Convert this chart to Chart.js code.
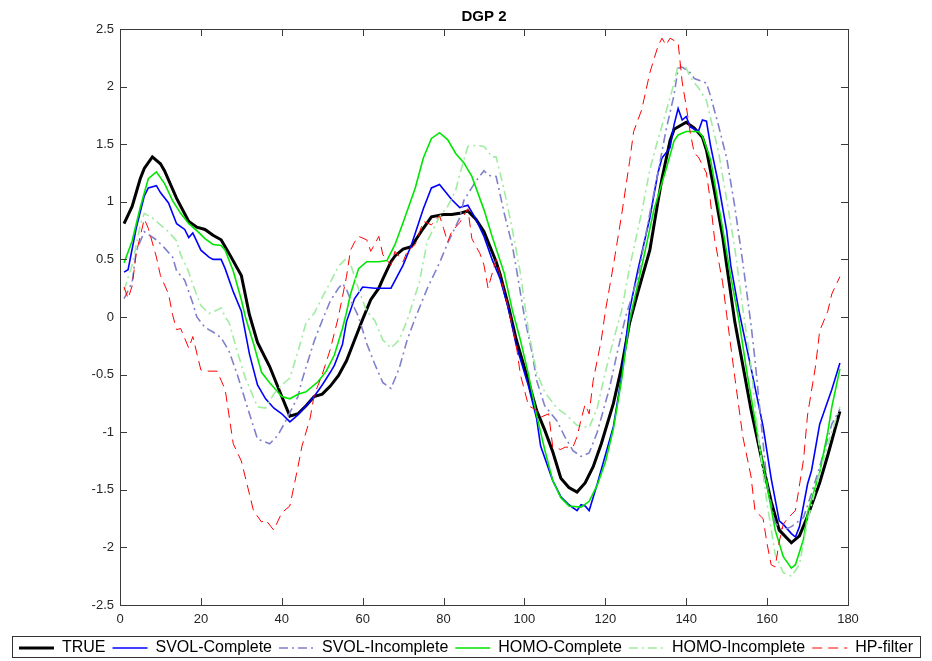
<!DOCTYPE html>
<html>
<head>
<meta charset="utf-8">
<script src="https://cdn.jsdelivr.net/npm/chart.js@4.4.1/dist/chart.umd.min.js"></script>
<style>
  html, body { margin: 0; padding: 0; background: #fff; }
  #wrap { width: 932px; height: 661px; }
</style>
</head>
<body>
<div id="wrap"><canvas id="dgpChart" width="932" height="661"></canvas></div>
<script>
// ---- data ----
var seriesNames = ['TRUE', 'SVOL-Complete', 'SVOL-Incomplete', 'HOMO-Complete', 'HOMO-Incomplete', 'HP-filter'];
var xTicks = [0, 20, 40, 60, 80, 100, 120, 140, 160, 180];
var yTicks = [-2.5, -2, -1.5, -1, -0.5, 0, 0.5, 1, 1.5, 2, 2.5];

var trueX = [1,3,5,6,8,10,11,14,17,19,21,23,25,27,30,32,34,37,40,42,44,46,48,50,52,54,56,58,60,62,64,65,67,68,70,72,75,77,80,82,84,86,88,90,93,94,96,98,101,103,105,107,109,111,113,115,117,119,122,124,126,128,131,133,134,136,137,140,142,144,145,147,149,150,152,154,156,159,161,163,166,168,170,173,175,178];
var trueY = [0.81,0.96,1.2,1.29,1.39,1.33,1.27,1.03,0.83,0.78,0.76,0.71,0.67,0.55,0.36,0.02,-0.22,-0.43,-0.69,-0.86,-0.84,-0.77,-0.69,-0.67,-0.6,-0.51,-0.38,-0.2,-0.02,0.15,0.25,0.33,0.48,0.53,0.59,0.61,0.77,0.87,0.89,0.89,0.9,0.92,0.85,0.74,0.48,0.37,0.1,-0.2,-0.56,-0.81,-0.98,-1.17,-1.4,-1.48,-1.52,-1.44,-1.3,-1.1,-0.75,-0.44,-0.05,0.21,0.58,1.0,1.2,1.53,1.63,1.69,1.64,1.56,1.45,1.09,0.7,0.45,-0.04,-0.42,-0.8,-1.29,-1.6,-1.85,-1.96,-1.9,-1.73,-1.44,-1.2,-0.82];

var svolCX = [1,2,4,6,7,9,10,12,14,16,17,18,20,22,23,25,26,28,30,32,34,36,38,40,42,44,45,48,50,52,53,55,56,58,60,63,65,67,70,72,75,77,79,82,84,86,88,90,92,94,96,98,101,103,104,107,109,111,113,114,115,116,118,120,122,124,126,128,131,133,134,136,137,138,139,140,141,143,144,145,146,148,150,151,153,156,159,161,163,164,166,167,168,170,171,173,176,178];
var svolCY = [0.39,0.41,0.77,1.05,1.12,1.14,1.08,0.99,0.81,0.76,0.69,0.73,0.58,0.52,0.5,0.5,0.42,0.22,0.05,-0.32,-0.59,-0.71,-0.79,-0.84,-0.91,-0.85,-0.81,-0.69,-0.59,-0.48,-0.42,-0.24,-0.04,0.16,0.26,0.25,0.25,0.25,0.45,0.62,0.94,1.12,1.15,1.02,0.95,0.97,0.85,0.7,0.5,0.33,0.08,-0.25,-0.6,-0.88,-1.12,-1.42,-1.56,-1.63,-1.68,-1.63,-1.64,-1.68,-1.45,-1.2,-0.95,-0.52,0.06,0.4,0.86,1.25,1.38,1.47,1.67,1.81,1.71,1.74,1.65,1.61,1.71,1.7,1.49,1.15,0.75,0.45,0.06,-0.44,-0.95,-1.4,-1.77,-1.8,-1.88,-1.91,-1.82,-1.45,-1.33,-0.93,-0.63,-0.4];

var svolIX = [1,3,4,6,9,11,13,14,16,18,19,21,23,25,27,29,32,34,37,39,41,44,45,48,50,52,54,55,56,57,59,61,63,65,67,69,71,73,76,79,81,84,85,88,90,91,93,95,97,98,100,102,103,105,108,110,112,114,116,118,121,123,125,128,131,133,135,137,138,139,141,142,145,146,148,150,152,154,156,157,159,160,162,164,166,169,171,173,176,178];
var svolIY = [0.16,0.3,0.57,0.74,0.67,0.6,0.52,0.4,0.32,0.12,0.0,-0.09,-0.13,-0.18,-0.3,-0.5,-0.84,-1.06,-1.1,-1.03,-0.9,-0.69,-0.55,-0.21,-0.03,0.14,0.25,0.29,0.24,0.15,0.0,-0.23,-0.41,-0.57,-0.62,-0.45,-0.2,-0.01,0.25,0.47,0.64,0.86,1.01,1.18,1.27,1.23,1.22,0.9,0.62,0.42,0.0,-0.33,-0.55,-0.77,-0.9,-1.04,-1.16,-1.21,-1.18,-1.0,-0.62,-0.3,0.0,0.34,0.9,1.25,1.62,1.93,2.16,2.17,2.12,2.07,2.03,1.92,1.66,1.38,0.96,0.47,-0.06,-0.37,-1.09,-1.45,-1.79,-1.85,-1.82,-1.74,-1.53,-1.3,-0.93,-0.8];

var homoCX = [1,3,5,7,9,11,13,15,17,19,21,23,25,26,28,30,31,33,35,37,40,42,44,46,49,51,53,55,56,57,59,61,64,66,68,70,73,75,77,79,81,83,85,87,90,92,95,97,99,101,103,105,107,109,111,114,116,118,120,122,124,126,128,130,132,135,137,138,140,143,144,146,147,149,151,153,155,158,160,162,164,166,167,169,170,173,175,176,178];
var homoCY = [0.47,0.66,0.95,1.2,1.26,1.16,1.01,0.9,0.81,0.75,0.68,0.63,0.62,0.58,0.4,0.15,0.0,-0.23,-0.48,-0.57,-0.69,-0.71,-0.67,-0.65,-0.56,-0.47,-0.33,-0.1,0.04,0.2,0.42,0.48,0.48,0.49,0.63,0.82,1.12,1.38,1.55,1.6,1.54,1.42,1.34,1.22,0.93,0.7,0.38,0.06,-0.2,-0.5,-0.85,-1.15,-1.42,-1.57,-1.64,-1.65,-1.6,-1.46,-1.26,-0.97,-0.55,-0.03,0.28,0.6,0.93,1.28,1.53,1.58,1.61,1.61,1.57,1.37,1.17,0.77,0.35,-0.02,-0.48,-1.1,-1.47,-1.85,-2.08,-2.18,-2.15,-1.93,-1.7,-1.35,-1.0,-0.78,-0.45];

var homoIX = [1,3,5,6,8,10,12,14,15,17,18,20,22,24,25,26,27,29,31,34,36,38,40,42,44,46,48,50,52,54,56,57,59,61,63,65,67,69,71,74,76,79,81,83,84,86,88,90,92,93,95,97,99,101,103,105,108,110,113,116,118,120,122,124,126,129,131,133,135,137,138,140,141,143,145,146,148,150,152,154,156,158,160,162,164,166,168,170,173,175,178];
var homoIY = [0.23,0.45,0.8,0.9,0.86,0.8,0.74,0.66,0.54,0.39,0.28,0.1,0.03,0.06,0.08,0.0,-0.05,-0.3,-0.53,-0.78,-0.79,-0.67,-0.59,-0.53,-0.3,-0.05,0.03,0.17,0.3,0.44,0.51,0.46,0.24,0.05,-0.03,-0.2,-0.27,-0.2,-0.03,0.3,0.66,0.87,0.96,1.1,1.24,1.48,1.49,1.48,1.39,1.39,1.1,0.76,0.38,-0.12,-0.48,-0.65,-0.79,-0.84,-0.94,-0.96,-0.79,-0.48,-0.2,0.05,0.43,0.91,1.28,1.54,1.78,2.03,2.19,2.16,2.08,1.99,1.88,1.73,1.43,1.02,0.6,0.07,-0.42,-1.1,-1.62,-2.06,-2.22,-2.25,-2.15,-1.77,-1.35,-1.11,-0.78];

var hpX = [1,2,3,4,5,6,7,9,10,12,13,14,15,17,18,20,22,24,26,28,30,33,35,36,38,40,42,44,45,47,48,50,52,54,56,57,58,59,61,62,64,65,67,68,70,71,73,75,77,79,80,81,82,84,86,87,89,90,91,93,94,96,98,99,101,103,104,106,107,109,110,112,113,114,115,116,117,119,120,122,124,126,127,129,131,133,134,135,136,138,139,140,141,142,143,145,146,147,149,150,152,154,156,157,159,160,161,162,163,164,165,167,169,170,172,173,175,176,178];
var hpY = [0.26,0.16,0.27,0.55,0.7,0.85,0.77,0.52,0.36,0.2,0.02,-0.11,-0.1,-0.27,-0.17,-0.46,-0.47,-0.47,-0.63,-1.1,-1.25,-1.68,-1.78,-1.76,-1.85,-1.7,-1.64,-1.3,-1.12,-0.88,-0.68,-0.5,-0.28,0.0,0.35,0.58,0.65,0.7,0.67,0.57,0.7,0.54,0.45,0.57,0.48,0.57,0.63,0.83,0.8,0.88,0.77,0.65,0.74,0.82,0.94,0.68,0.55,0.45,0.25,0.5,0.36,0.08,-0.25,-0.5,-0.77,-0.81,-0.87,-0.84,-1.13,-1.15,-1.13,-1.13,-1.04,-0.89,-0.76,-0.84,-0.55,-0.2,0.05,0.45,0.88,1.35,1.61,1.8,2.12,2.35,2.42,2.36,2.42,2.38,2.04,1.83,1.6,1.42,1.39,1.25,1.0,0.68,0.3,0.02,-0.52,-1.04,-1.38,-1.68,-1.75,-1.97,-2.15,-2.17,-1.95,-1.8,-1.75,-1.68,-1.24,-0.85,-0.42,-0.12,0.05,0.2,0.35];

function pts(xs, ys) {
  return xs.map(function (x, i) { return { x: x, y: ys[i] }; });
}

var axisColor = '#262626';
var fontFam = '"Liberation Sans", Arial, Helvetica, sans-serif';

// MATLAB style box + inward ticks, and a frame around the legend
var boxPlugin = {
  id: 'boxPlugin',
  afterDraw: function (chart) {
    var ctx = chart.ctx, a = chart.chartArea;
    var xs = chart.scales.x, ys = chart.scales.y;
    var tl = 7;
    ctx.save();
    ctx.strokeStyle = '#3a3a3a';
    ctx.lineWidth = 1;
    ctx.setLineDash([]);
    ctx.strokeRect(Math.round(a.left) + 0.5, Math.round(a.top) + 0.5, Math.round(a.right - a.left), Math.round(a.bottom - a.top));
    ctx.beginPath();
    xTicks.forEach(function (v) {
      var px = Math.round(xs.getPixelForValue(v)) + 0.5;
      ctx.moveTo(px, a.bottom); ctx.lineTo(px, a.bottom - tl);
      ctx.moveTo(px, a.top); ctx.lineTo(px, a.top + tl);
    });
    yTicks.forEach(function (v) {
      var py = Math.round(ys.getPixelForValue(v)) + 0.5;
      ctx.moveTo(a.left, py); ctx.lineTo(a.left + tl, py);
      ctx.moveTo(a.right, py); ctx.lineTo(a.right - tl, py);
    });
    ctx.stroke();

    var lg = chart.legend;
    if (lg && lg.legendHitBoxes && lg.legendHitBoxes.length) {
      var hb = lg.legendHitBoxes;
      var l = hb[0].left, r = hb[hb.length - 1].left + hb[hb.length - 1].width;
      var t = hb[0].top;
      ctx.strokeStyle = '#333';
      ctx.strokeRect(Math.round(l - 7) + 0.5, Math.round(t - 4) + 0.5, Math.round(r - l + 14), 21);
    }
    ctx.restore();
  }
};

new Chart(document.getElementById('dgpChart'), {
  type: 'line',
  data: {
    datasets: [
      { label: seriesNames[0], data: pts(trueX, trueY), borderColor: '#000000', borderWidth: 3, order: 6 },
      { label: seriesNames[1], data: pts(svolCX, svolCY), borderColor: '#0000ff', borderWidth: 1.6, order: 5 },
      { label: seriesNames[2], data: pts(svolIX, svolIY), borderColor: '#8080cc', borderWidth: 1.6, borderDash: [9, 4, 2, 4], order: 4 },
      { label: seriesNames[3], data: pts(homoCX, homoCY), borderColor: '#00e600', borderWidth: 1.6, order: 3 },
      { label: seriesNames[4], data: pts(homoIX, homoIY), borderColor: '#a0eca0', borderWidth: 1.6, borderDash: [9, 4, 2, 4], order: 2 },
      { label: seriesNames[5], data: pts(hpX, hpY), borderColor: '#ff0000', borderWidth: 1, borderDash: [10, 6], order: 1 }
    ]
  },
  options: {
    responsive: false,
    animation: false,
    elements: { point: { radius: 0 }, line: { tension: 0, fill: false } },
    layout: { padding: { left: 0, right: 0, top: 0, bottom: 0 } },
    scales: {
      x: {
        type: 'linear', min: 0, max: 180,
        grid: { display: false, drawTicks: false },
        border: { display: false },
        afterBuildTicks: function (s) { s.ticks = xTicks.map(function (v) { return { value: v }; }); },
        afterFit: function (s) { s.height = 28; },
        ticks: { color: axisColor, padding: 7, font: { family: fontFam, size: 13 }, maxRotation: 0 }
      },
      y: {
        type: 'linear', min: -2.5, max: 2.5, position: 'left',
        grid: { display: false, drawTicks: false },
        border: { display: false },
        afterBuildTicks: function (s) { s.ticks = yTicks.map(function (v) { return { value: v }; }); },
        afterFit: function (s) { s.width = 120; },
        ticks: { color: axisColor, padding: 6, font: { family: fontFam, size: 13 }, callback: function (v) { return String(v); } }
      },
      yRight: {
        type: 'linear', position: 'right', display: true,
        grid: { display: false, drawTicks: false },
        border: { display: false },
        ticks: { display: false },
        afterFit: function (s) { s.width = 84; }
      }
    },
    plugins: {
      title: {
        display: true, text: 'DGP 2', color: '#000', fullSize: false,
        font: { family: fontFam, size: 15, weight: 'bold' },
        padding: { top: 8, bottom: 3 }
      },
      legend: {
        display: true, position: 'bottom', maxHeight: 28,
        labels: {
          usePointStyle: true, pointStyle: 'line', pointStyleWidth: 35,
          color: '#000', padding: 7,
          font: { family: fontFam, size: 16 },
          generateLabels: function (chart) {
            return chart.data.datasets.map(function (ds, i) {
              return {
                text: ds.label, datasetIndex: i, hidden: false,
                strokeStyle: ds.borderColor, fillStyle: ds.borderColor,
                lineWidth: ds.borderWidth, lineDash: ds.borderDash || [],
                pointStyle: 'line', fontColor: '#000'
              };
            });
          }
        }
      },
      tooltip: { enabled: false }
    }
  },
  plugins: [boxPlugin]
});
</script>
</body>
</html>
